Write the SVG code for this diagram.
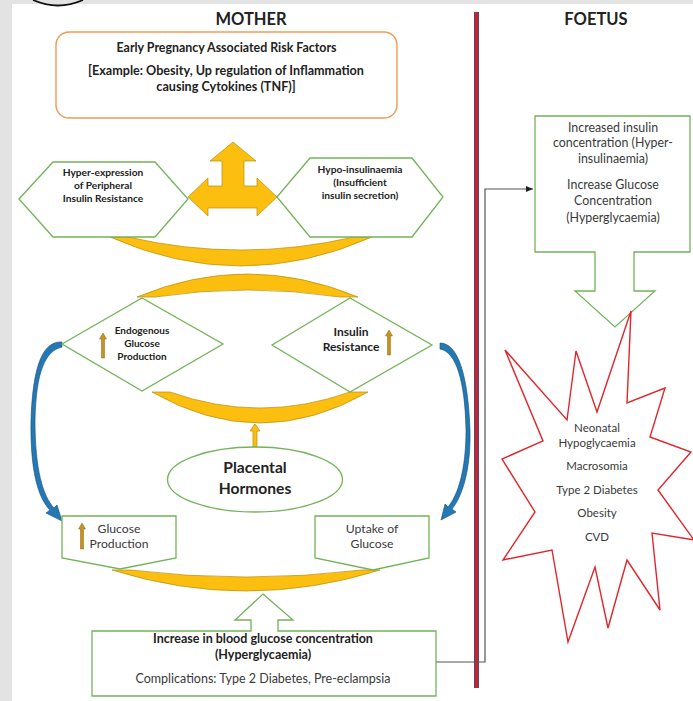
<svg xmlns="http://www.w3.org/2000/svg" width="693" height="701" viewBox="0 0 693 701">
<defs>
<style>
.t{font-family:Lato,"Liberation Sans",sans-serif;fill:#222;text-anchor:middle}
.b{font-weight:bold}
.r{fill:#3a3a3a}
.g{fill:#fff;stroke:#74b35a;stroke-width:1.3}
.y{fill:#fcbf10;stroke:#b88c08;stroke-width:0.7}
.o{fill:#c8921e;stroke:#8a6414;stroke-width:0.5}
.bl{fill:#2479b5;stroke:#0f4f7a;stroke-width:0.6}
.c{fill:none;stroke:#555;stroke-width:1.2}
</style>
<linearGradient id="div" x1="0" y1="0" x2="1" y2="0">
<stop offset="0" stop-color="#3b4a9a"/><stop offset="0.3" stop-color="#c0282d"/><stop offset="0.7" stop-color="#c0282d"/><stop offset="1" stop-color="#3b4a9a"/>
</linearGradient>
<marker id="ah" markerWidth="8" markerHeight="8" refX="7" refY="4" orient="auto" markerUnits="userSpaceOnUse">
<path d="M0,1 L7,4 L0,7 Z" fill="#222"/>
</marker>
</defs>
<rect width="693" height="701" fill="#fff"/>
<rect x="0" y="0" width="693" height="4" fill="#e3e3e3"/>
<rect x="0" y="0" width="12" height="701" fill="#e3e3e3"/>
<path d="M33,0 Q58,11 83,0" fill="none" stroke="#111" stroke-width="1.8"/>
<rect x="474" y="12" width="5" height="676" fill="url(#div)"/>
<text class="t b" x="251" y="25" font-size="16.5">MOTHER</text>
<text class="t b" x="596" y="25" font-size="16.5">FOETUS</text>

<g id="connectors">
<path class="y" d="M110,237 Q241,295 372,237 L354,237 Q241,263 128,237 Z"/>
<path class="y" d="M137,297 Q247,251 358,297 L340,297 Q247,283 155,297 Z"/>
<path class="y" d="M152,392 Q260,454 368,392 L350,392 Q260,424 170,392 Z"/>
<path class="y" d="M112,570 Q246,612 380,570 L362,570 Q246,584 130,570 Z"/>
<path class="y" d="M233,142 L256,161 H244 V186 H257 V178 L277,197 L257,216 V208 H208 V216 L188,197 L208,178 V186 H222 V161 H210 Z"/>
<path class="y" d="M253,447 V431 H250 L255,424 L260,431 H257 V447 Z"/>
<path class="bl" d="M62,342 C44,341 33,362 31,420 C30,470 38,498 50,510 L46,513 L62,521 L57,505 L54,508 C43,496 35,470 35,420 C36,372 45,351 62,347 Z"/>
<path class="bl" d="M440,343 C458,343 468,375 470,430 C471,470 462,497 452,509 L456,512 L441,520 L445,504 L448,507 C458,495 466,470 466,430 C465,380 456,352 440,349 Z"/>
<polyline class="c" points="436,662 485,662 485,189 533,189" marker-end="url(#ah)"/>
</g>

<g id="risk-factors">
<rect x="56" y="32" width="341" height="86" rx="13" fill="#fff" stroke="#f19a55" stroke-width="1.4"/>
<text class="t b" x="226.5" y="52" font-size="12.4">Early Pregnancy Associated Risk Factors</text>
<text class="t b" x="226" y="75" font-size="12.6">[Example: Obesity, Up regulation of Inflammation</text>
<text class="t b" x="226" y="91" font-size="12.6">causing Cytokines (TNF)]</text>
</g>

<g id="hyper-expression">
<polygon class="g" points="19,199 53,162 155,162 188,199 155,237 53,237"/>
<text class="t b" font-size="10.2" x="103" y="176">Hyper-expression</text>
<text class="t b" font-size="10.2" x="103" y="189">of Peripheral</text>
<text class="t b" font-size="10.2" x="103" y="202">Insulin Resistance</text>
</g>

<g id="hypo-insulinaemia">
<polygon class="g" points="277,197 310,158 412,158 443,197 412,237 310,237"/>
<text class="t b" font-size="10.2" x="360" y="173">Hypo-insulinaemia</text>
<text class="t b" font-size="10.2" x="360" y="186">(Insufficient</text>
<text class="t b" font-size="10.2" x="360" y="199">insulin secretion)</text>
</g>

<g id="endogenous">
<polygon class="g" points="62,344 142,298 223,344 142,391"/>
<path class="o" d="M101.5,358 V339 H99.5 L103,333 L106.5,339 H104.5 V358 Z"/>
<text class="t b" font-size="10" x="142" y="334">Endogenous</text>
<text class="t b" font-size="10" x="142" y="347">Glucose</text>
<text class="t b" font-size="10" x="142" y="360">Production</text>
</g>

<g id="insulin-resistance">
<polygon class="g" points="272,345 350,298 432,345 350,392"/>
<path class="o" d="M387.5,355 V336 H385.5 L389,330 L392.5,336 H390.5 V355 Z"/>
<text class="t b" font-size="12" x="351" y="336">Insulin</text>
<text class="t b" font-size="12" x="351" y="351">Resistance</text>
</g>

<g id="placental-hormones">
<ellipse class="g" cx="255" cy="479.5" rx="87.5" ry="32.5"/>
<text class="t b" font-size="15.6" x="255" y="473">Placental</text>
<text class="t b" font-size="15.6" x="255" y="494">Hormones</text>
</g>

<g id="glucose-production">
<polygon class="g" points="62,516 176,516 176,558 120,569 62,558"/>
<path class="o" d="M80.5,549 V529 H78.5 L82,523 L85.5,529 H83.5 V549 Z"/>
<text class="t r" font-size="12.2" x="119" y="533">Glucose</text>
<text class="t r" font-size="12.2" x="119" y="548">Production</text>
</g>

<g id="uptake-glucose">
<polygon class="g" points="315,516 429,516 429,558 373,570 315,558"/>
<text class="t r" font-size="12.2" x="372" y="533">Uptake of</text>
<text class="t r" font-size="12.2" x="372" y="548">Glucose</text>
</g>

<g id="hyperglycaemia-mother">
<path class="g" d="M263,594 L293,620 H278 V631 H436 V696 H92 V631 H251 V620 H235 Z"/>
<text class="t b" font-size="12.5" x="263" y="643">Increase in blood glucose concentration</text>
<text class="t b" font-size="12.5" x="263" y="659">(Hyperglycaemia)</text>
<text class="t r" font-size="12.5" x="263" y="683">Complications: Type 2 Diabetes, Pre-eclampsia</text>
</g>

<g id="foetus-insulin">
<path class="g" d="M535,116 H690 V252 H634 V291 H655 L615,327 L575,291 H595 V252 H535 Z"/>
<text class="t r" font-size="12.4" x="613" y="132">Increased insulin</text>
<text class="t r" font-size="12.4" x="613" y="147">concentration (Hyper-</text>
<text class="t r" font-size="12.4" x="613" y="163">insulinaemia)</text>
<text class="t r" font-size="12.4" x="613" y="189">Increase Glucose</text>
<text class="t r" font-size="12.4" x="613" y="205">Concentration</text>
<text class="t r" font-size="12.4" x="613" y="222">(Hyperglycaemia)</text>
</g>

<g id="foetus-outcomes">
<polygon fill="#fff" stroke="#e0262b" stroke-width="1.4" points="631,311 627,403 665,388 650,437 691,452 658,490 694,540 652,533 660,610 627,560 608,628 595,567 568,642 552,550 503,560 535,512 502,459 543,441 505,350 567,420 576,351 597,412"/>
<text class="t r" font-size="11.5" x="597" y="432">Neonatal</text>
<text class="t r" font-size="11.5" x="597" y="447">Hypoglycaemia</text>
<text class="t r" font-size="11.5" x="597" y="470">Macrosomia</text>
<text class="t r" font-size="11.5" x="597" y="494">Type 2 Diabetes</text>
<text class="t r" font-size="11.5" x="597" y="517">Obesity</text>
<text class="t r" font-size="11.5" x="597" y="541">CVD</text>
</g>
</svg>
